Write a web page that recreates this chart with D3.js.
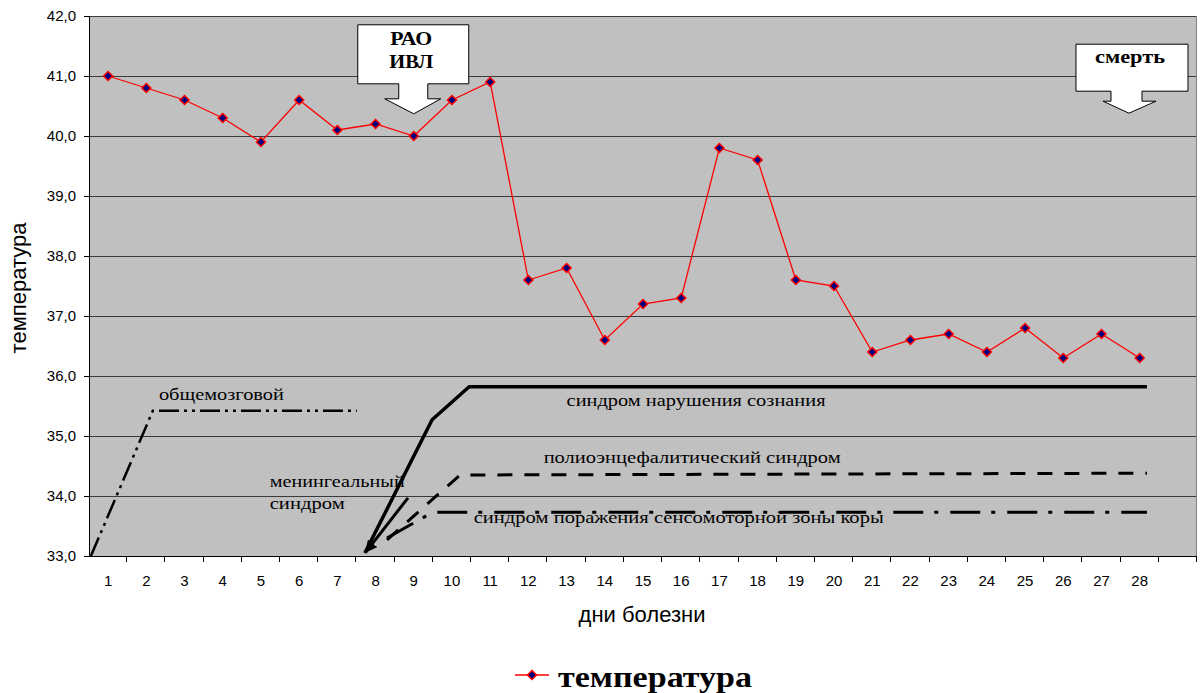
<!DOCTYPE html>
<meta charset="utf-8">
<title>температура</title>
<style>
  body { margin: 0; background: #fff; }
  .tick text { font-family: Arial, "Liberation Sans", sans-serif; font-size: 15px; fill: #000; }
  .note { font-family: "Liberation Serif", "Times New Roman", serif; font-size: 17px; fill: #000; }
</style>
<body>
<script src="https://cdn.jsdelivr.net/npm/d3@7"></script>
<script>

// days of illness (29th slot is an empty band, as in the original)
var days = [1,2,3,4,5,6,7,8,9,10,11,12,13,14,15,16,17,18,19,20,21,22,23,24,25,26,27,28,29];
var dayLabels = ["1","2","3","4","5","6","7","8","9","10","11","12","13","14","15","16","17","18","19","20","21","22","23","24","25","26","27","28",""];
var temps = [41.0,40.8,40.6,40.3,39.9,40.6,40.1,40.2,40.0,40.6,40.9,37.6,37.8,36.6,37.2,37.3,39.8,39.6,37.6,37.5,36.4,36.6,36.7,36.4,36.8,36.3,36.7,36.3];
var yTicks = [33,34,35,36,37,38,39,40,41,42];

// syndrome lines, [day, value]
var obshchemozg = [[0.55,33.0],[2.17,35.42],[7.51,35.42]];
var soznanie = [[7.72,33.05],[9.48,35.27],[10.45,35.82],[28.19,35.82]];
var meningeal = [[8.85,33.97],[7.75,33.07]];
var polio = [[8.3,33.27],[10.21,34.35],[28.19,34.38]];
var sensomotor = [[8.3,33.3],[9.5,33.73],[28.19,33.73]];

var margin = {top: 16, left: 89};
var width = 1108, height = 540;

var svg = d3.select("body").append("svg")
    .attr("width", 1200)
    .attr("height", 693);

var g = svg.append("g")
    .attr("transform", "translate(" + margin.left + "," + margin.top + ")");

var x = d3.scaleBand().domain(days).range([0, width]);
var xl = d3.scaleLinear().domain([0.5, 29.5]).range([0, width]);
var y = d3.scaleLinear().domain([33, 42]).range([height, 0]);

// plot background
g.append("rect")
  .attr("width", width)
  .attr("height", height)
  .attr("fill", "#c0c0c0");

// gridlines
g.selectAll(".grid")
  .data(yTicks)
  .enter()
  .append("line")
  .attr("x1", 0)
  .attr("x2", width)
  .attr("y1", function(d) { return Math.round(y(d)) + 0.5; })
  .attr("y2", function(d) { return Math.round(y(d)) + 0.5; })
  .attr("stroke", "#3a3a3a")
  .attr("stroke-width", 1);

// right border
g.append("line")
  .attr("x1", width - 0.5).attr("x2", width - 0.5)
  .attr("y1", 0).attr("y2", height)
  .attr("stroke", "#808080");

// y axis
var yAxis = g.append("g")
  .call(d3.axisLeft(y)
    .tickValues(yTicks)
    .tickSize(5)
    .tickPadding(8)
    .tickFormat(function(d) { return d.toFixed(1).replace(".", ","); }));
yAxis.select(".domain").attr("stroke", "#000");

// x axis: ticks on band edges
var xAxis = g.append("g")
  .attr("transform", "translate(0," + height + ")");
xAxis.append("line")
  .attr("x1", 0).attr("x2", width)
  .attr("y1", 0.5).attr("y2", 0.5)
  .attr("stroke", "#000");
xAxis.selectAll(".xt")
  .data(days)
  .enter()
  .append("line")
  .attr("x1", function(d) { return Math.round(x(d) + x.bandwidth()) - 0.5; })
  .attr("x2", function(d) { return Math.round(x(d) + x.bandwidth()) - 0.5; })
  .attr("y1", 0).attr("y2", 6)
  .attr("stroke", "#000");
xAxis.selectAll(".xl")
  .data(days)
  .enter()
  .append("text")
  .attr("x", function(d) { return x(d) + x.bandwidth() / 2; })
  .attr("y", 30)
  .attr("text-anchor", "middle")
  .style("font-family", "Arial, 'Liberation Sans', sans-serif")
  .style("font-size", "15px")
  .text(function(d, i) { return dayLabels[i]; });

// axis titles
svg.append("text")
  .attr("transform", "translate(26,288) rotate(-90)")
  .attr("text-anchor", "middle")
  .style("font-family", "Arial, 'Liberation Sans', sans-serif")
  .style("font-size", "22px")
  .text("температура");

svg.append("text")
  .attr("x", 642)
  .attr("y", 622)
  .attr("text-anchor", "middle")
  .style("font-family", "Arial, 'Liberation Sans', sans-serif")
  .style("font-size", "22px")
  .text("дни болезни");

// syndrome lines
var line = d3.line()
  .x(function(d) { return xl(d[0]); })
  .y(function(d) { return y(d[1]); });

svg.append("defs").append("marker")
  .attr("id", "arrow")
  .attr("viewBox", "0 0 10 10")
  .attr("refX", 9).attr("refY", 5)
  .attr("markerWidth", 4).attr("markerHeight", 4)
  .attr("orient", "auto")
  .append("path")
  .attr("d", "M0,0 L10,5 L0,10 z")
  .attr("fill", "#000");

g.append("path").datum(obshchemozg)
  .attr("d", line).attr("fill", "none")
  .attr("stroke", "#000").attr("stroke-width", 2.5)
  .attr("stroke-dasharray", "20,5,3,5,3,5");

g.append("path").datum(soznanie)
  .attr("d", line).attr("fill", "none")
  .attr("stroke", "#000").attr("stroke-width", 3.5)
  .attr("stroke-linejoin", "round");

g.append("path").datum(meningeal)
  .attr("d", line).attr("fill", "none")
  .attr("stroke", "#000").attr("stroke-width", 3)
  .attr("marker-end", "url(#arrow)");

g.append("path").datum(polio)
  .attr("d", line).attr("fill", "none")
  .attr("stroke", "#000").attr("stroke-width", 3)
  .attr("stroke-dasharray", "15,12");

g.append("path").datum(sensomotor)
  .attr("d", line).attr("fill", "none")
  .attr("stroke", "#000").attr("stroke-width", 3)
  .attr("stroke-dasharray", "30,11,4,12");

// syndrome labels (w = rendered width in the original)
var notes = [
  {t: "общемозговой", d: 2.33, v: 35.6, w: 125},
  {t: "менингеальный", d: 5.23, v: 34.15, w: 135},
  {t: "синдром", d: 5.23, v: 33.78, w: 75},
  {t: "синдром нарушения сознания", d: 13.0, v: 35.5, w: 259},
  {t: "полиоэнцефалитический синдром", d: 12.4, v: 34.55, w: 297},
  {t: "синдром поражения сенсомоторной зоны коры", d: 10.57, v: 33.55, w: 410}
];
g.selectAll(".note")
  .data(notes)
  .enter()
  .append("text")
  .attr("class", "note")
  .attr("x", function(d) { return xl(d.d); })
  .attr("y", function(d) { return y(d.v); })
  .attr("textLength", function(d) { return d.w; })
  .attr("lengthAdjust", "spacingAndGlyphs")
  .text(function(d) { return d.t; });

// temperature line
g.append("path").datum(temps)
  .attr("fill", "none")
  .attr("stroke", "#ff0000")
  .attr("stroke-width", 1.3)
  .attr("d", d3.line()
    .x(function(d, i) { return x(days[i]) + x.bandwidth() / 2; })
    .y(function(d) { return y(d); }));

g.selectAll(".pt")
  .data(temps)
  .enter()
  .append("path")
  .attr("transform", function(d, i) {
    return "translate(" + (x(days[i]) + x.bandwidth() / 2) + "," + y(d) + ")";
  })
  .attr("d", "M0,-4.5 L4.5,0 L0,4.5 L-4.5,0 Z")
  .attr("fill", "#000080")
  .attr("stroke", "#ff0000")
  .attr("stroke-width", 1.5);

// callouts (tip at day/value, shape offsets in px)
var callouts = [
  {d: 9.0, v: 40.37, lines: ["РАО", "ИВЛ"], tw: [42, 44], box: [-56, 55, -89, -30], stem: [-15, 14], hb: -15, head: [-29, 27], ty: [-69, -46]},
  {d: 27.72, v: 40.38, lines: ["смерть"], tw: [70], box: [-53, 59, -69, -22], stem: [-18, 13], hb: -12, head: [-26, 27], ty: [-50]}
];
callouts.forEach(function(c) {
  var tx = xl(c.d), ty = y(c.v);
  var b = c.box;
  var pts = [
    [b[0], b[2]], [b[1], b[2]], [b[1], b[3]], [c.stem[1], b[3]], [c.stem[1], c.hb],
    [c.head[1], c.hb], [0, 0], [c.head[0], c.hb], [c.stem[0], c.hb], [c.stem[0], b[3]], [b[0], b[3]]
  ];
  var cg = g.append("g").attr("transform", "translate(" + tx + "," + ty + ")");
  cg.append("polygon")
    .attr("points", pts.map(function(p) { return p.join(","); }).join(" "))
    .attr("fill", "#fff")
    .attr("stroke", "#000")
    .attr("stroke-width", 1);
  c.lines.forEach(function(t, i) {
    cg.append("text")
      .attr("x", (b[0] + b[1]) / 2 - 2)
      .attr("y", c.ty[i])
      .attr("text-anchor", "middle")
      .attr("textLength", c.tw[i])
      .attr("lengthAdjust", "spacingAndGlyphs")
      .style("font-family", "'Liberation Serif', 'Times New Roman', serif")
      .style("font-weight", "bold")
      .style("font-size", "18px")
      .text(t);
  });
});

// legend
var lg = svg.append("g").attr("transform", "translate(515,675)");
lg.append("line")
  .attr("x1", 0).attr("x2", 34)
  .attr("y1", 0).attr("y2", 0)
  .attr("stroke", "#ff0000").attr("stroke-width", 1.3);
lg.append("path")
  .attr("transform", "translate(17,0)")
  .attr("d", "M0,-4.5 L4.5,0 L0,4.5 L-4.5,0 Z")
  .attr("fill", "#000080")
  .attr("stroke", "#ff0000")
  .attr("stroke-width", 1.5);
lg.append("text")
  .attr("x", 43)
  .attr("y", 12)
  .attr("textLength", 194)
  .attr("lengthAdjust", "spacingAndGlyphs")
  .style("font-family", "'Liberation Serif', 'Times New Roman', serif")
  .style("font-weight", "bold")
  .style("font-size", "30px")
  .text("температура");

</script>
</body>
